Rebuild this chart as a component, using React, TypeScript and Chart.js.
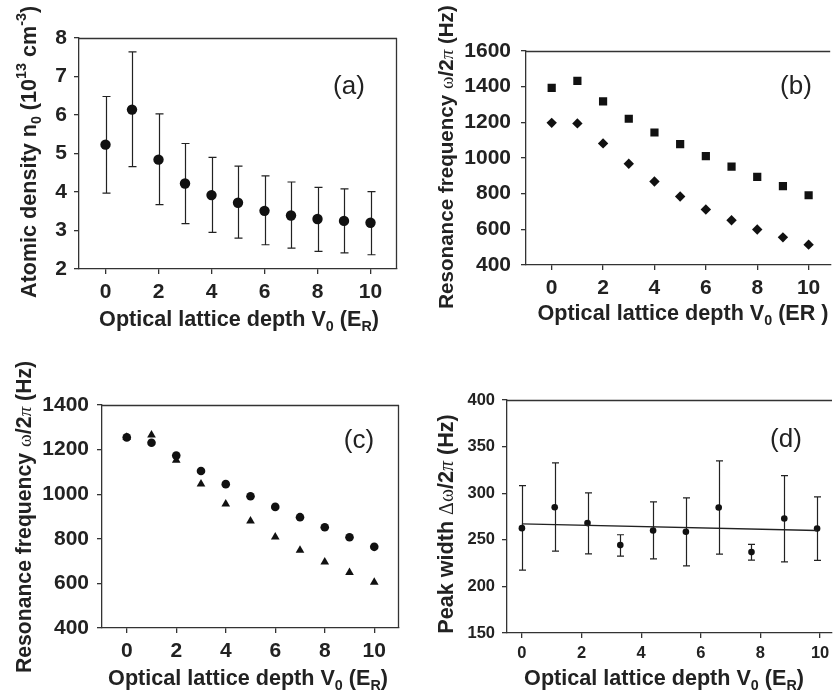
import React, { useEffect, useRef } from 'react';
import { Chart, registerables } from 'chart.js';

Chart.register(...registerables);

const W = 836;
const H = 695;

// ---------- data ----------
const xTickLabels = [0, 2, 4, 6, 8, 10];

// (a) atomic density
const depthA = [0, 1, 2, 3, 4, 5, 6, 7, 8, 9, 10];
const densityA = [5.23, 6.14, 4.84, 4.22, 3.92, 3.72, 3.51, 3.39, 3.3, 3.25, 3.2];
const densityUpperA = [6.48, 7.64, 6.03, 5.26, 4.9, 4.67, 4.42, 4.26, 4.12, 4.08, 4.01];
const densityLowerA = [3.97, 4.66, 3.67, 3.18, 2.95, 2.8, 2.63, 2.54, 2.46, 2.42, 2.37];
const yTicksA = [2, 3, 4, 5, 6, 7, 8];

// (b) resonance frequencies
const depthB = [0, 1, 2, 3, 4, 5, 6, 7, 8, 9, 10];
const squaresB = [1393, 1432, 1317, 1220, 1143, 1078, 1011, 952, 894, 842, 791];
const diamondsB = [1197, 1194, 1082, 968, 868, 784, 711, 651, 599, 555, 514];
const yTicksB = [400, 600, 800, 1000, 1200, 1400, 1600];

// (c) resonance frequencies
const depthC = [0, 1, 2, 3, 4, 5, 6, 7, 8, 9, 10];
const circlesC = [1255, 1231, 1173, 1104, 1045, 991, 943, 897, 852, 807, 764];
const trianglesC = [1255, 1266, 1152, 1046, 956, 880, 808, 749, 696, 649, 605];
const yTicksC = [400, 600, 800, 1000, 1200, 1400];

// (d) peak width
const depthD = [0, 1.1, 2.2, 3.3, 4.4, 5.5, 6.6, 7.7, 8.8, 9.9];
const widthD = [262.5, 285, 267.9, 244.3, 260, 258.6, 284.6, 236.8, 272.9, 262.1];
const widthUpperD = [308.2, 332.5, 300.4, 255.4, 290.7, 295, 334.6, 245, 318.9, 296.1];
const widthLowerD = [217.5, 237.9, 235, 232.5, 229.6, 222.1, 234.6, 228.2, 226.4, 227.9];
const fitXD = [0, 9.9];
const fitYD = [267.1, 260.0];
const yTicksD = [150, 200, 250, 300, 350, 400];

// ---------- rich text ----------
type Seg = { t: string; k?: 'sub' | 'sup' | 'greek' | 'greekI' | 'plain' };

const TITLE_FAMILY = '"Liberation Sans", Arial, sans-serif';

function segFont(s: Seg, size: number) {
  if (s.k === 'sub' || s.k === 'sup') return `bold ${(size * 0.66).toFixed(1)}px ${TITLE_FAMILY}`;
  if (s.k === 'greek') return `${(size * 0.92).toFixed(1)}px "Liberation Serif", serif`;
  if (s.k === 'greekI') return `italic ${(size * 0.92).toFixed(1)}px "Liberation Serif", serif`;
  return `bold ${size.toFixed(1)}px ${TITLE_FAMILY}`;
}

function drawRich(ctx: CanvasRenderingContext2D, segs: Seg[], size: number, x: number, y: number, rotate: boolean) {
  ctx.save();
  ctx.translate(x, y);
  if (rotate) ctx.rotate(-Math.PI / 2);
  ctx.textBaseline = 'alphabetic';
  ctx.textAlign = 'left';
  ctx.fillStyle = '#222';
  let total = 0;
  const widths = segs.map((s) => {
    ctx.font = segFont(s, size);
    const w = ctx.measureText(s.t).width;
    total += w;
    return w;
  });
  let cx = -total / 2;
  segs.forEach((s, i) => {
    ctx.font = segFont(s, size);
    let dy = 0;
    if (s.k === 'sub') dy = size * 0.22;
    if (s.k === 'sup') dy = -size * 0.45;
    ctx.fillText(s.t, cx, dy);
    cx += widths[i];
  });
  ctx.restore();
}

const xTitleSub: Seg[] = [
  { t: 'Optical lattice depth V' },
  { t: '0', k: 'sub' },
  { t: ' (E' },
  { t: 'R', k: 'sub' },
  { t: ')' },
];
const xTitlePlainR: Seg[] = [
  { t: 'Optical lattice depth V' },
  { t: '0', k: 'sub' },
  { t: ' (ER )' },
];
const yTitleA: Seg[] = [
  { t: 'Atomic density n' },
  { t: '0', k: 'sub' },
  { t: ' (10' },
  { t: '13', k: 'sup' },
  { t: ' cm' },
  { t: '-3', k: 'sup' },
  { t: ')' },
];
const yTitleRes: Seg[] = [
  { t: 'Resonance frequency ' },
  { t: 'ω', k: 'greek' },
  { t: '/2' },
  { t: 'π', k: 'greekI' },
  { t: ' (Hz)' },
];
const yTitleD: Seg[] = [
  { t: 'Peak width ' },
  { t: 'Δω', k: 'greek' },
  { t: '/2' },
  { t: 'π', k: 'greekI' },
  { t: ' (Hz)' },
];

// ---------- panels ----------
type ErrBars = { x: number[]; upper: number[]; lower: number[]; cap: number };

interface PanelCfg {
  box: { l: number; t: number; r: number; b: number };
  xMin: number;
  xMax: number;
  yMin: number;
  yMax: number;
  yTicks: number[];
  tickSize: number;
  yPad: number;
  xPad: number;
  datasets: any[];
  err?: ErrBars;
  xTitle: Seg[];
  xTitlePos: [number, number];
  yTitle: Seg[];
  yTitlePos: [number, number];
  titleSize: number;
  yTitleSize: number;
  label: string;
  labelPos: [number, number];
  frameRight: boolean;
}

const pts = (xs: number[], ys: number[]) => xs.map((x, i) => ({ x, y: ys[i] }));
const INK = '#111';
const LINE = '#333';

const panels: PanelCfg[] = [
  {
    box: { l: 79, t: 38, r: 397, b: 269 },
    xMin: -1, xMax: 11, yMin: 2, yMax: 8,
    yTicks: yTicksA, tickSize: 21, yPad: 7, xPad: 6,
    datasets: [
      { data: pts(depthA, densityA), pointStyle: 'circle', pointRadius: 5.2, backgroundColor: INK, borderWidth: 0 },
    ],
    err: { x: depthA, upper: densityUpperA, lower: densityLowerA, cap: 4 },
    xTitle: xTitleSub, xTitlePos: [239, 326],
    yTitle: yTitleA, yTitlePos: [36, 152],
    titleSize: 21.6, yTitleSize: 21.6,
    label: '(a)', labelPos: [349, 94],
    frameRight: true,
  },
  {
    box: { l: 526, t: 51, r: 836, b: 265 },
    xMin: -1, xMax: 10.84, yMin: 400, yMax: 1600,
    yTicks: yTicksB, tickSize: 21, yPad: 10, xPad: 6,
    datasets: [
      { data: pts(depthB, squaresB), pointStyle: 'rect', pointRadius: 5.8, backgroundColor: INK, borderWidth: 0 },
      { data: pts(depthB, diamondsB), pointStyle: 'rectRot', pointRadius: 5.2, backgroundColor: INK, borderWidth: 0 },
    ],
    xTitle: xTitlePlainR, xTitlePos: [683, 320],
    yTitle: yTitleRes, yTitlePos: [453, 157],
    titleSize: 21.6, yTitleSize: 20.6,
    label: '(b)', labelPos: [796, 94],
    frameRight: false,
  },
  {
    box: { l: 102, t: 405, r: 399, b: 628 },
    xMin: -1, xMax: 11, yMin: 400, yMax: 1400,
    yTicks: yTicksC, tickSize: 21, yPad: 8, xPad: 6,
    datasets: [
      { data: pts(depthC, trianglesC), pointStyle: 'triangle', pointRadius: 5, backgroundColor: INK, borderWidth: 0 },
      { data: pts(depthC, circlesC), pointStyle: 'circle', pointRadius: 4.3, backgroundColor: INK, borderWidth: 0 },
    ],
    xTitle: xTitleSub, xTitlePos: [248, 685],
    yTitle: yTitleRes, yTitlePos: [31, 517],
    titleSize: 21.6, yTitleSize: 21.2,
    label: '(c)', labelPos: [359, 448],
    frameRight: true,
  },
  {
    box: { l: 507, t: 400, r: 836, b: 633 },
    xMin: -0.5, xMax: 10.4, yMin: 150, yMax: 400,
    yTicks: yTicksD, tickSize: 16.5, yPad: 7, xPad: 6,
    datasets: [
      { data: pts(fitXD, fitYD), showLine: true, pointRadius: 0, borderColor: '#222', borderWidth: 1.3, backgroundColor: '#222' },
      { data: pts(depthD, widthD), pointStyle: 'circle', pointRadius: 3.3, backgroundColor: INK, borderWidth: 0 },
    ],
    err: { x: depthD, upper: widthUpperD, lower: widthLowerD, cap: 3.5 },
    xTitle: xTitleSub, xTitlePos: [664, 685],
    yTitle: yTitleD, yTitlePos: [453, 524],
    titleSize: 21.6, yTitleSize: 21.6,
    label: '(d)', labelPos: [786, 447],
    frameRight: false,
  },
];

const YW = 70;
const XH = 50;

function PanelChart({ cfg }: { cfg: PanelCfg }) {
  const ref = useRef<HTMLCanvasElement | null>(null);
  useEffect(() => {
    if (!ref.current) return;
    const { box } = cfg;
    const decor = {
      id: 'decor',
      beforeDatasetsDraw(chart: any) {
        const ctx = chart.ctx as CanvasRenderingContext2D;
        const xs = chart.scales.x;
        const ys = chart.scales.y;
        const a = chart.chartArea;
        ctx.save();
        ctx.strokeStyle = LINE;
        ctx.lineWidth = 1.3;
        ctx.beginPath();
        ctx.moveTo(a.left, a.top + 0.5);
        ctx.lineTo(a.right, a.top + 0.5);
        if (cfg.frameRight) {
          ctx.moveTo(a.right - 0.5, a.top);
          ctx.lineTo(a.right - 0.5, a.bottom);
        }
        ctx.stroke();
        if (cfg.err) {
          const e = cfg.err;
          ctx.strokeStyle = '#222';
          ctx.lineWidth = 1.2;
          ctx.beginPath();
          e.x.forEach((xv, i) => {
            const px = Math.round(xs.getPixelForValue(xv)) + 0.5;
            const pu = ys.getPixelForValue(e.upper[i]);
            const pl = ys.getPixelForValue(e.lower[i]);
            ctx.moveTo(px, pu);
            ctx.lineTo(px, pl);
            ctx.moveTo(px - e.cap, pu);
            ctx.lineTo(px + e.cap, pu);
            ctx.moveTo(px - e.cap, pl);
            ctx.lineTo(px + e.cap, pl);
          });
          ctx.stroke();
        }
        ctx.restore();
      },
      afterDraw(chart: any) {
        const ctx = chart.ctx as CanvasRenderingContext2D;
        drawRich(ctx, cfg.xTitle, cfg.titleSize, cfg.xTitlePos[0], cfg.xTitlePos[1], false);
        drawRich(ctx, cfg.yTitle, cfg.yTitleSize, cfg.yTitlePos[0], cfg.yTitlePos[1], true);
        ctx.save();
        ctx.font = `26px ${TITLE_FAMILY}`;
        ctx.fillStyle = '#222';
        ctx.textAlign = 'center';
        ctx.textBaseline = 'alphabetic';
        ctx.fillText(cfg.label, cfg.labelPos[0], cfg.labelPos[1]);
        ctx.restore();
      },
    };
    const tickFont = { family: 'Liberation Sans', size: cfg.tickSize, weight: 'bold' as const };
    const chart = new Chart(ref.current, {
      type: 'scatter',
      data: { datasets: cfg.datasets },
      options: {
        responsive: false,
        animation: false,
        events: [],
        layout: {
          padding: {
            left: box.l - YW,
            top: box.t,
            right: W - box.r,
            bottom: H - box.b - XH,
          },
        },
        plugins: { legend: { display: false }, tooltip: { enabled: false }, title: { display: false } },
        scales: {
          x: {
            type: 'linear',
            min: cfg.xMin,
            max: cfg.xMax,
            afterBuildTicks: (s: any) => {
              s.ticks = xTickLabels.map((v) => ({ value: v }));
            },
            afterFit: (s: any) => {
              s.height = XH;
            },
            grid: { display: true, drawOnChartArea: false, drawTicks: true, tickLength: 5, color: LINE, lineWidth: 1.3 },
            border: { display: true, color: LINE, width: 1.3 },
            ticks: { color: '#222', font: tickFont, padding: cfg.xPad, autoSkip: false, maxRotation: 0, callback: (v: any) => String(v) },
          },
          y: {
            type: 'linear',
            min: cfg.yMin,
            max: cfg.yMax,
            afterBuildTicks: (s: any) => {
              s.ticks = cfg.yTicks.map((v) => ({ value: v }));
            },
            afterFit: (s: any) => {
              s.width = YW;
            },
            grid: { display: true, drawOnChartArea: false, drawTicks: true, tickLength: 5, color: LINE, lineWidth: 1.3 },
            border: { display: true, color: LINE, width: 1.3 },
            ticks: { color: '#222', font: tickFont, padding: cfg.yPad, autoSkip: false, callback: (v: any) => String(v) },
          },
        },
      },
      plugins: [decor],
    });
    return () => chart.destroy();
  }, [cfg]);
  return (
    <canvas
      ref={ref}
      width={W}
      height={H}
      style={{ position: 'absolute', left: 0, top: 0, width: W, height: H, display: 'block' }}
    />
  );
}

export default function App() {
  return (
    <div style={{ position: 'absolute', left: 0, top: 0, width: W, height: H, background: '#fff', overflow: 'hidden' }}>
      {panels.map((p, i) => (
        <PanelChart key={i} cfg={p} />
      ))}
    </div>
  );
}
